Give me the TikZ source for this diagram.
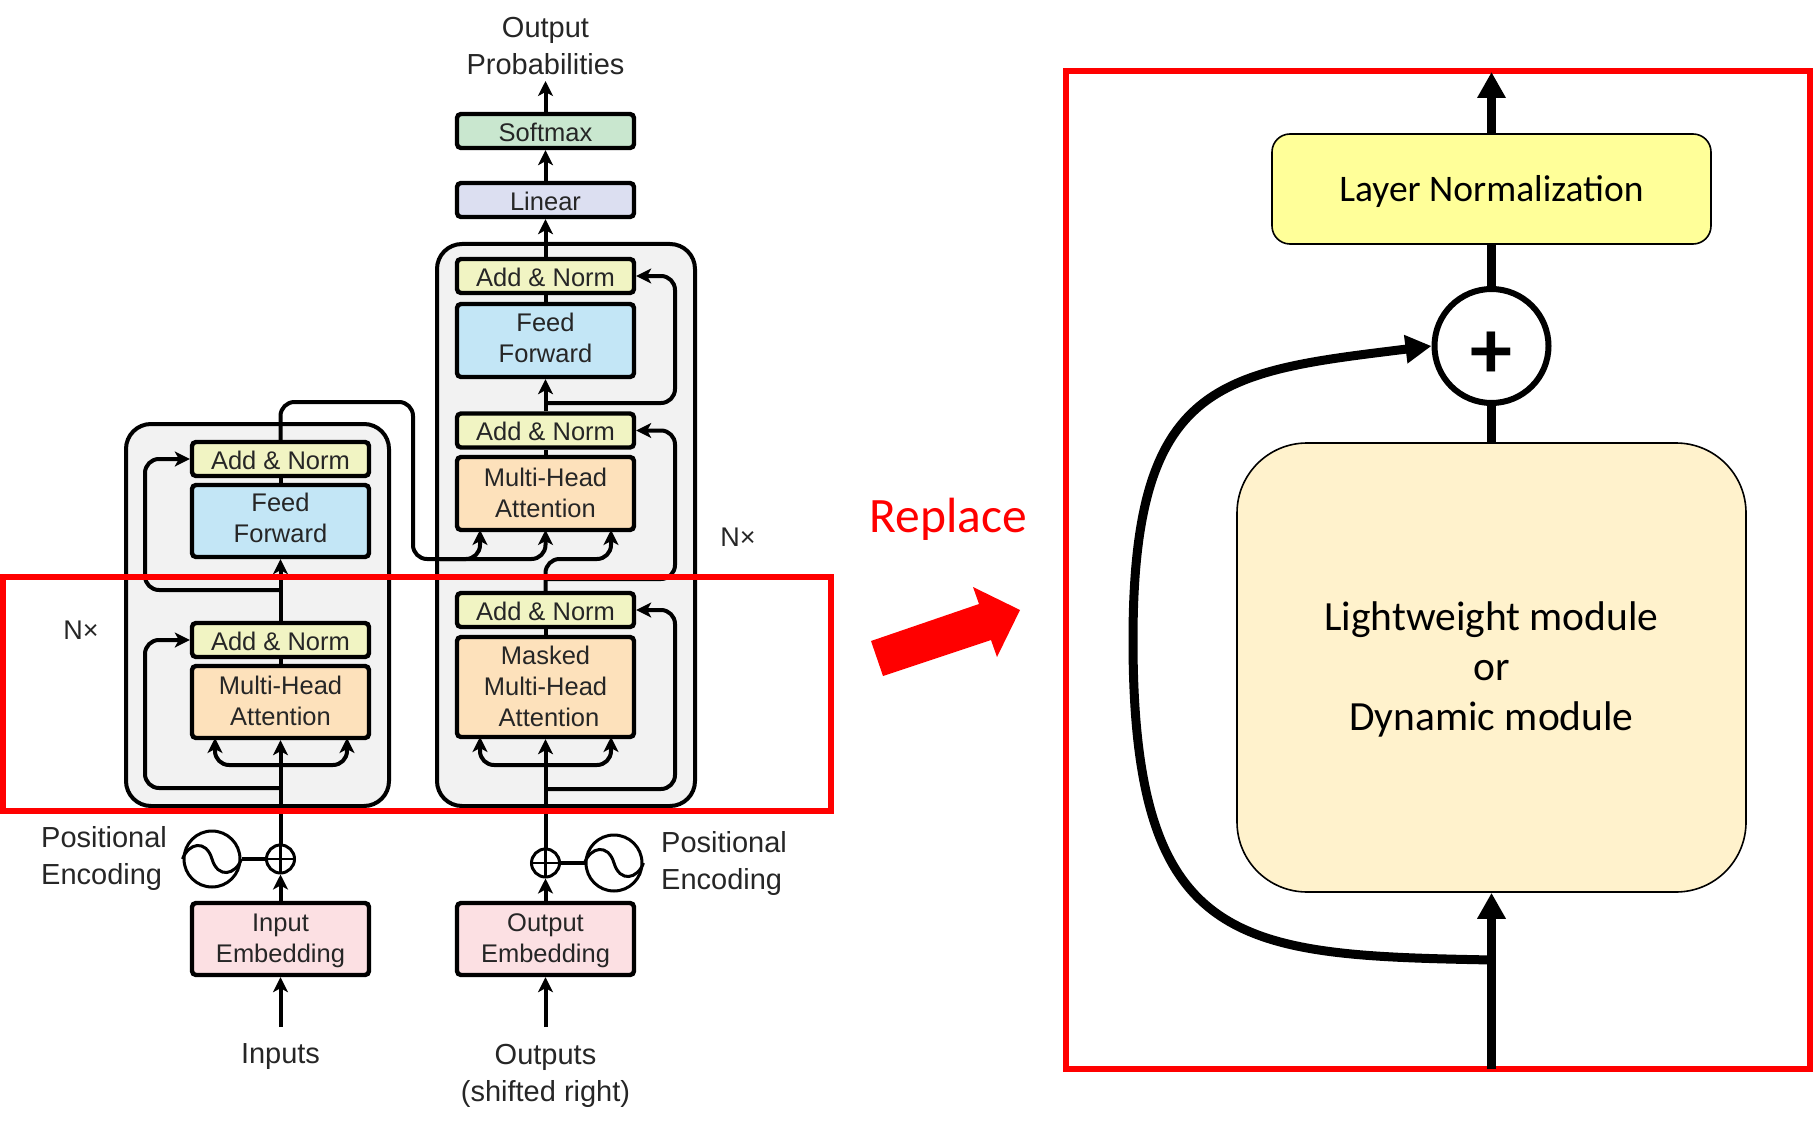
\documentclass[tikz,border=0pt]{standalone}
\usepackage{fontspec}
\usetikzlibrary{arrows.meta}
\newfontfamily\paperfont{Liberation Sans}
\newfontfamily\slidefont{Carlito}
\definecolor{normfill}{RGB}{241,244,195}
\definecolor{feedfill}{RGB}{195,230,246}
\definecolor{attnfill}{RGB}{253,225,187}
\definecolor{embedfill}{RGB}{252,224,227}
\definecolor{softfill}{RGB}{201,231,207}
\definecolor{linearfill}{RGB}{220,223,241}
\definecolor{stackfill}{RGB}{242,242,242}
\definecolor{lightnorm}{RGB}{255,255,153}
\definecolor{lightmod}{RGB}{255,242,204}
\tikzset{
  tbox/.style={draw=black, line width=4.4pt, rounded corners=4pt, minimum width=177pt,
    inner sep=0pt, align=center, text=black!85,
    font=\paperfont\fontsize{25.5}{31}\selectfont},
  slimbox/.style={tbox, minimum height=34pt, text height=20.5pt},
  normbox/.style={slimbox, fill=normfill},
  stack/.style={draw=black, line width=4pt, rounded corners=25pt, fill=stackfill},
  wire/.style={line width=4pt},
  flow/.style={wire, -{Stealth[length=15pt,width=15pt,inset=4pt]}},
  lane/.style={rounded corners=14pt},
  caption/.style={inner sep=0pt, align=left, text=black!85,
    font=\paperfont\fontsize{29}{37}\selectfont},
  wavedisc/.style={circle, draw=black, line width=3pt, fill=white, minimum size=56pt, inner sep=0pt},
  plusdisc/.style={circle, draw=black, line width=3pt, fill=white, minimum size=28pt, inner sep=0pt},
  cross/.style={line width=2.5pt, shorten <=2pt, shorten >=2pt},
  redframe/.style={draw=red, line width=6pt},
  slidebox/.style={draw=black, line width=1.6pt, align=center},
  thick flow/.style={line width=9pt, -{Triangle[length=26pt,width=27pt]}}
}
\begin{document}
\begin{tikzpicture}[x=1pt, y=-1pt]
  \useasboundingbox (0,0) rectangle (1813,1126);

  % the two stacks
  \draw[stack] (126,424) rectangle (389,806);
  \draw[stack] (437,244) rectangle (695,806);

  % encoder
  \node[normbox] (encNormB) at (280.5,459) {Add \& Norm};
  \node[tbox, fill=feedfill, minimum height=72pt, text depth=6pt] (encFeed) at (280.5,521) {Feed\\Forward};
  \node[normbox] (encNormA) at (280.5,640) {Add \& Norm};
  \node[tbox, fill=attnfill, minimum height=72pt, text depth=2.4pt] (encAttn) at (280.5,702) {Multi-Head\\Attention};
  \node[tbox, fill=embedfill, minimum height=72pt, text depth=2pt] (encEmbed) at (280.5,939) {Input\\Embedding};
  \node[plusdisc] (encPlus) at (280.5,859) {};
  \node[wavedisc] (encWave) at (212,859) {};

  % decoder
  \node[normbox] (decNormC) at (545.5,276) {Add \& Norm};
  \node[tbox, fill=feedfill, minimum height=73pt, text depth=6pt] (decFeed) at (545.5,340.5) {Feed\\Forward};
  \node[normbox] (decNormB) at (545.5,430.5) {Add \& Norm};
  \node[tbox, fill=attnfill, minimum height=73pt, text depth=2.4pt] (decAttn) at (545.5,493.5) {Multi-Head\\Attention};
  \node[normbox] (decNormA) at (545.5,610) {Add \& Norm};
  \node[tbox, fill=attnfill, minimum height=100pt, text depth=2.4pt] (decMask) at (545.5,687) {Masked\\Multi-Head\\\hspace*{7pt}Attention};
  \node[tbox, fill=embedfill, minimum height=72pt, text depth=2pt] (decEmbed) at (545.5,939) {Output\\Embedding};
  \node[plusdisc] (decPlus) at (545.5,863) {};
  \node[wavedisc] (decWave) at (614,863) {};
  \node[slimbox, fill=linearfill] (linear) at (545.5,200) {Linear};
  \node[slimbox, fill=softfill] (softmax) at (545.5,131) {Softmax};

  % labels
  \node[caption, align=center] (outProb) at (545.5,46) {Output\\Probabilities};
  \node[caption, align=center] (inLabel) at (280.5,1057) {Inputs};
  \node[caption, align=center] (outLabel) at (545.5,1076) {Outputs\\(shifted right)};
  \node[caption, anchor=west] (encPos) at (41,858) {Positional\\Encoding};
  \node[caption, anchor=west] (decPos) at (661,863.5) {Positional\\Encoding};
  \node[caption, font=\paperfont\fontsize{27}{37}\selectfont] (encN) at (81,630) {N×};
  \node[caption, font=\paperfont\fontsize{27}{37}\selectfont] (decN) at (738,537) {N×};

  % free ends and lanes
  \coordinate (encStart) at (280.5,1027);
  \coordinate (decStart) at (545.5,1027);
  \coordinate (outTip) at (545.5,81);
  \coordinate (encTapA) at (280.5,788);
  \coordinate (encTapB) at (280.5,590);
  \coordinate (encLaneA) at (145,720);
  \coordinate (encLaneB) at (145,520);
  \coordinate (encFan) at (280.5,765);
  \coordinate (encKeyL) at (215,738);
  \coordinate (encKeyR) at (347,738);
  \coordinate (decTapA) at (545.5,789);
  \coordinate (decTapB) at (545.5,579);
  \coordinate (decTapC) at (545.5,403);
  \coordinate (decLaneA) at (675,700);
  \coordinate (decLaneB) at (675,500);
  \coordinate (decLaneC) at (675,340);
  \coordinate (decFan) at (545.5,765);
  \coordinate (decKeyL) at (480,737);
  \coordinate (decKeyR) at (611,737);
  \coordinate (bridge) at (413,402);
  \coordinate (crossIn) at (440,559);
  \coordinate (crossL) at (480,530);
  \coordinate (crossC) at (545.5,530);
  \coordinate (crossR) at (611,530);
  \coordinate (crossTurn) at (611,559);

  % encoder connectors
  \draw[flow] (encStart) -- (encEmbed.south);
  \draw[flow] (encEmbed.north) -- (encPlus.south);
  \draw[wire] (encPlus.west) -- (encWave.east);
  \draw[flow] (encPlus.north) -- (encAttn.south);
  \draw[wire] (encAttn.north) -- (encNormA.south);
  \draw[flow] (encNormA.north) -- (encFeed.south);
  \draw[wire] (encFeed.north) -- (encNormB.south);
  \draw[flow, lane] (encTapA) -| (encLaneA) |- (encNormA.west);
  \draw[flow, lane] (encTapB) -| (encLaneB) |- (encNormB.west);
  \draw[flow, lane] (encFan) -| (encKeyL);
  \draw[flow, lane] (encFan) -| (encKeyR);

  % decoder connectors
  \draw[flow] (decStart) -- (decEmbed.south);
  \draw[flow] (decEmbed.north) -- (decPlus.south);
  \draw[wire] (decPlus.east) -- (decWave.west);
  \draw[flow] (decPlus.north) -- (decMask.south);
  \draw[wire] (decMask.north) -- (decNormA.south);
  \draw[wire] (decAttn.north) -- (decNormB.south);
  \draw[flow] (decNormB.north) -- (decFeed.south);
  \draw[wire] (decFeed.north) -- (decNormC.south);
  \draw[flow] (decNormC.north) -- (linear.south);
  \draw[flow] (linear.north) -- (softmax.south);
  \draw[flow] (softmax.north) -- (outTip);
  \draw[flow, lane] (decTapA) -| (decLaneA) |- (decNormA.east);
  \draw[flow, lane] (decTapB) -| (decLaneB) |- (decNormB.east);
  \draw[flow, lane] (decTapC) -| (decLaneC) |- (decNormC.east);
  \draw[flow, lane] (decFan) -| (decKeyL);
  \draw[flow, lane] (decFan) -| (decKeyR);

  % encoder output into the decoder
  \draw[flow, lane] (encNormB.north) |- (bridge) |- (crossL |- crossIn) -- (crossL);
  \draw[flow, lane] (crossIn) -| (crossC);
  \draw[flow, lane] (decNormA.north) |- (crossTurn) -- (crossR);

  % the discs
  \draw[cross] (encPlus.north) -- (encPlus.south);
  \draw[cross] (encPlus.west) -- (encPlus.east);
  \draw[cross] (decPlus.north) -- (decPlus.south);
  \draw[cross] (decPlus.west) -- (decPlus.east);
  \draw[line width=3pt] (encWave.west) .. controls +(6,-16) and +(-6,-20) .. (encWave.center) .. controls +(6,20) and +(-6,16) .. (encWave.east);
  \draw[line width=3pt] (decWave.west) .. controls +(6,-16) and +(-6,-20) .. (decWave.center) .. controls +(6,20) and +(-6,16) .. (decWave.east);

  % red marks
  \draw[redframe] (3,577) rectangle (830.5,811);
  \draw[redframe] (1066,71) rectangle (1810,1069);
  \node[inner sep=0pt, text=red, font=\slidefont\fontsize{49.5}{50}\selectfont] (replaceText) at (948,519) {Replace};
  \fill[red] (871,641) -- (979,604) -- (973,587) -- (1020,610) -- (997,657) -- (991,640) -- (883,676) -- cycle;

  % replacement block
  \node[slidebox, fill=lightnorm, rounded corners=18pt, minimum width=439pt, minimum height=110pt, text height=31pt,
    font=\slidefont\fontsize{37.5}{50}\selectfont] (normR) at (1491.5,189) {Layer Normalization};
  \node[circle, draw=black, line width=6pt, fill=white, minimum size=114pt, inner sep=0pt] (plusR) at (1491.5,346) {};
  \node[font=\slidefont\bfseries\fontsize{84}{84}\selectfont, inner sep=0pt] (plusSign) at (1491.5,355) {+};
  \node[slidebox, fill=lightmod, rounded corners=70pt, minimum width=509pt, minimum height=449pt, text depth=3pt,
    font=\slidefont\fontsize{41.5}{50}\selectfont] (moduleR) at (1491.5,667.5) {Lightweight module\\or\\Dynamic module};

  \coordinate (bottomEnd) at (1491.5,1069);
  \coordinate (topEnd) at (1491.5,72);
  \coordinate (skipStart) at (1491.5,960);
  \draw[thick flow] (bottomEnd) -- (moduleR.south);
  \draw[line width=9pt] (moduleR.north) -- (plusR.south);
  \draw[line width=9pt] (plusR.north) -- (normR.south);
  \draw[thick flow] (normR.north) -- (topEnd);
  \draw[line width=9pt, -{Triangle[length=26pt,width=27pt]}] (skipStart) .. controls (1240,955) and (1133,950) .. (1133,640) .. controls (1133,380) and (1220,372) .. (plusR.west);
\end{tikzpicture}
\end{document}
